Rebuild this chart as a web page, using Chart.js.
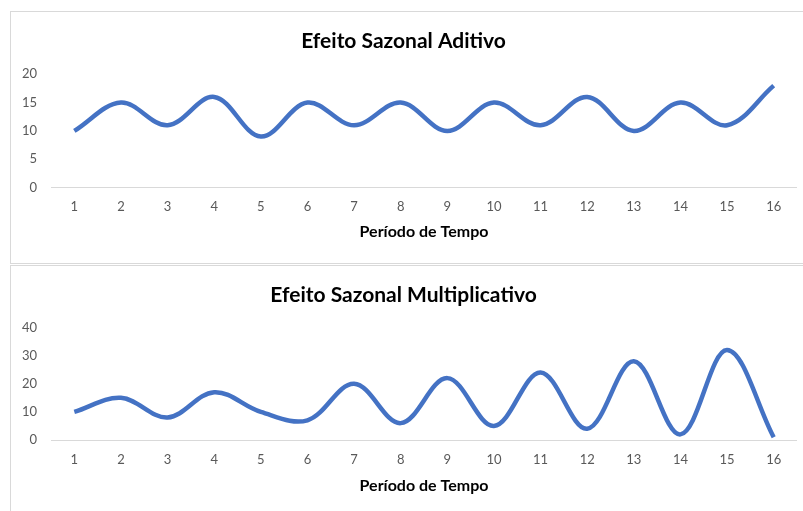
<!DOCTYPE html>
<html>
<head>
<meta charset="utf-8">
<script src="https://cdn.jsdelivr.net/npm/chart.js@4.4.1/dist/chart.umd.min.js"></script>
<style>
  html, body { margin: 0; padding: 0; background: #fff; }
  body { width: 803px; height: 511px; position: relative; overflow: hidden; }
  .panel { position: absolute; left: 10px; width: 800px; border: 1px solid #d9d9d9; border-right: none; box-sizing: border-box; }
  #p1 { top: 11px; height: 253px; }
  #p2 { top: 265px; height: 250px; }
  .wrap { position: absolute; left: 0; width: 803px; }
  #w1 { top: 0; height: 263px; }
  #w2 { top: 263px; height: 248px; }
  canvas { display: block; }
</style>
</head>
<body>
<div class="panel" id="p1"></div>
<div class="panel" id="p2"></div>
<div class="wrap" id="w1"><canvas id="c1" width="803" height="263"></canvas></div>
<div class="wrap" id="w2"><canvas id="c2" width="803" height="248"></canvas></div>
<script>
// Period labels shared by both charts
const periodos = ['1','2','3','4','5','6','7','8','9','10','11','12','13','14','15','16'];

// Additive seasonal series
const aditivo = [10, 15, 11, 16, 9, 15, 11, 15, 10, 15, 11, 16, 10, 15, 11, 18];

// Multiplicative seasonal series
const multiplicativo = [10, 15, 8, 17, 10, 7, 20, 6, 22, 5, 24, 4, 28, 2, 32, 1];

// Y-axis ranges and steps
const eixoAditivo = { min: 0, max: 20, step: 5 };
const eixoMultiplicativo = { min: 0, max: 40, step: 10 };

Chart.defaults.font.family = 'Lato, "Open Sans", sans-serif';
Chart.defaults.animation = false;

const LINE = '#4472C4';
const TICK = '#595959';

function buildChart(canvas, titulo, dados, eixo, lay) {
  return new Chart(canvas, {
    type: 'line',
    data: {
      labels: periodos,
      datasets: [{
        data: dados,
        borderColor: LINE,
        borderWidth: 4.5,
        pointRadius: 0,
        tension: 0.36,
        fill: false
      }]
    },
    options: {
      responsive: false,
      layout: { padding: { left: 10, right: 6, top: lay.top, bottom: lay.bottom } },
      plugins: {
        legend: { display: false },
        tooltip: { enabled: false },
        title: {
          display: true,
          text: titulo,
          color: '#000',
          font: { size: 21, weight: 'bold', lineHeight: 1.2 },
          padding: { top: 0, bottom: lay.titleGap }
        }
      },
      scales: {
        x: {
          offset: true,
          grid: { display: false, drawTicks: false },
          border: { display: false },
          ticks: { color: TICK, font: { size: 13, lineHeight: 1.2 }, padding: 12, maxRotation: 0, autoSkip: false },
          title: {
            display: true,
            text: 'Período de Tempo',
            color: '#000',
            font: { size: 16, weight: 'bold', lineHeight: 1.2 },
            padding: { top: 0, bottom: 0 }
          },
          afterFit: s => { s.height = lay.xHeight; }
        },
        y: {
          min: eixo.min,
          max: eixo.max,
          grid: {
            drawTicks: false,
            lineWidth: 1,
            color: c => (c.tick && c.tick.value === 0) ? '#d9d9d9' : 'rgba(0,0,0,0)'
          },
          border: { display: false },
          ticks: { stepSize: eixo.step, color: TICK, font: { size: 13 }, padding: 14 },
          afterFit: s => { s.width = 41; }
        }
      }
    }
  });
}

buildChart(document.getElementById('c1'), 'Efeito Sazonal Aditivo', aditivo, eixoAditivo,
  { top: 28.4, titleGap: 20.7, xHeight: 54.1, bottom: 21.4 });

buildChart(document.getElementById('c2'), 'Efeito Sazonal Multiplicativo', multiplicativo, eixoMultiplicativo,
  { top: 19.4, titleGap: 19.9, xHeight: 55.6, bottom: 15.4 });
</script>
</body>
</html>
